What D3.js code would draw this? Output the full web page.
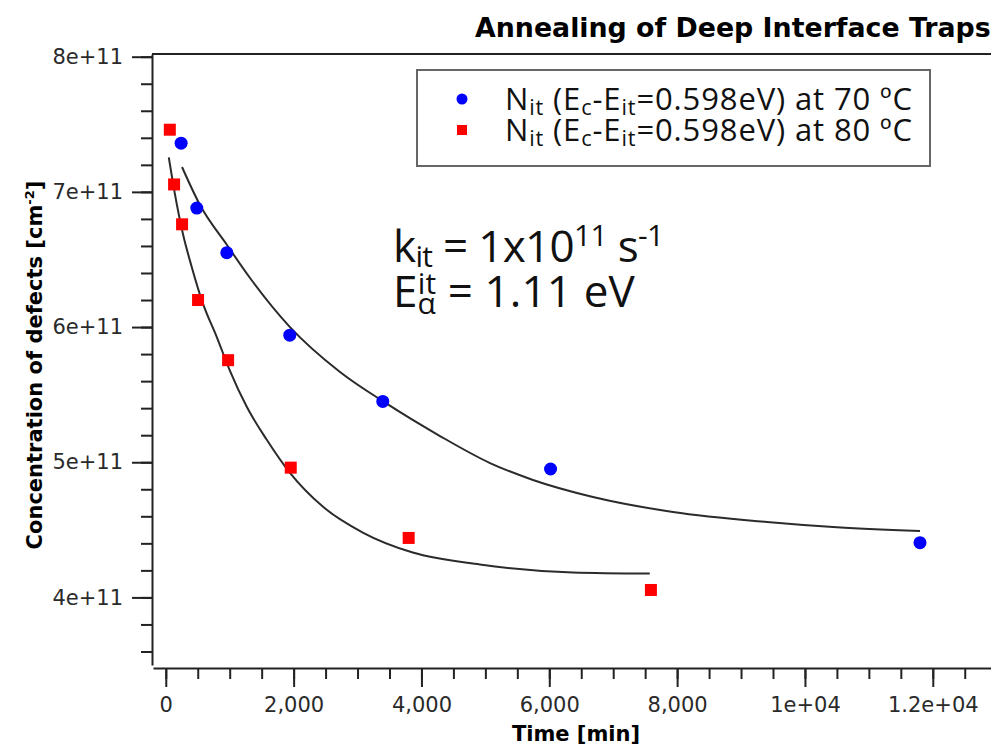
<!DOCTYPE html>
<html>
<head>
<meta charset="utf-8">
<script src="https://cdn.jsdelivr.net/npm/d3@7"></script>
<style>
  body { margin: 0; background: #fff; }
</style>
</head>
<body>
<div class="plot"></div>
<script>
// measured points, 70 C and 80 C
const time70 = [240, 485, 955, 1940, 3395, 6020, 11800];
const conc70 = [7.36e11, 6.88e11, 6.55e11, 5.94e11, 5.45e11, 4.95e11, 4.405e11];
const time80 = [63, 130, 255, 505, 975, 1955, 3800, 7590];
const conc80 = [7.46e11, 7.055e11, 6.76e11, 6.2e11, 5.755e11, 4.96e11, 4.44e11, 4.055e11];

// fit curves
const fitTime70 = [254, 535, 958, 1318, 1943, 2726, 3414, 4290, 5073, 5745, 6684, 7936, 9406, 10439, 11800];
const fitConc70 = [7.184e11, 6.903e11, 6.607e11, 6.363e11, 6.0e11, 5.668e11, 5.446e11, 5.194e11, 4.994e11, 4.869e11, 4.743e11, 4.632e11, 4.558e11, 4.521e11, 4.491e11];
const fitTime80 = [47, 141, 266, 407, 579, 798, 1001, 1267, 1580, 1940, 2456, 3082, 3864, 4913, 6368, 7572];
const fitConc80 = [7.255e11, 6.989e11, 6.694e11, 6.443e11, 6.177e11, 5.926e11, 5.68e11, 5.41e11, 5.166e11, 4.923e11, 4.672e11, 4.48e11, 4.332e11, 4.244e11, 4.185e11, 4.177e11];

const xTicks = [0, 2000, 4000, 6000, 8000, 10000, 12000];
const xTickLabels = ["0", "2,000", "4,000", "6,000", "8,000", "1e+04", "1.2e+04"];
const yTicks = [4e11, 5e11, 6e11, 7e11, 8e11];
const yTickLabels = ["4e+11", "5e+11", "6e+11", "7e+11", "8e+11"];

const width = 991;
const height = 745;

const svg = d3
  .select(".plot")
  .append("svg")
  .attr("width", width)
  .attr("height", height);

const x = d3.scaleLinear().domain([-200, 13000]).range([153, 996.7]);
const y = d3.scaleLinear().domain([3.5e11, 8.02e11]).range([665, 54]);

const tickFont = "'DejaVu Sans', sans-serif";
const noteFont = "'Open Sans', sans-serif";
const axisColor = "#222";

// x axis, minor then major
const xMinor = d3.range(0, 13000, 500);
svg.append("g")
  .attr("transform", "translate(0,668)")
  .call(d3.axisBottom(x).tickValues(xMinor).tickSize(11).tickSizeOuter(0).tickFormat(""))
  .call(g => g.selectAll("line, path").attr("stroke", axisColor).attr("stroke-width", 2));

svg.append("g")
  .attr("transform", "translate(0,668)")
  .call(d3.axisBottom(x).tickValues(xTicks).tickSize(19).tickSizeOuter(0).tickPadding(10)
    .tickFormat((d, i) => xTickLabels[i]))
  .call(g => g.select(".domain").remove())
  .call(g => g.selectAll("line").attr("stroke", axisColor).attr("stroke-width", 2))
  .call(g => g.selectAll("text").attr("fill", "#2a2a2a").attr("font-size", 21).attr("font-family", tickFont));

// y axis
const yMinor = d3.range(3.6e11, 8.01e11, 0.2e11);
svg.append("g")
  .attr("transform", "translate(152,0)")
  .call(d3.axisLeft(y).tickValues(yMinor).tickSize(11).tickSizeOuter(0).tickFormat(""))
  .call(g => g.selectAll("line, path").attr("stroke", axisColor).attr("stroke-width", 2));

svg.append("g")
  .attr("transform", "translate(152,0)")
  .call(d3.axisLeft(y).tickValues(yTicks).tickSize(20).tickSizeOuter(0).tickPadding(9)
    .tickFormat((d, i) => yTickLabels[i]))
  .call(g => g.select(".domain").remove())
  .call(g => g.selectAll("line").attr("stroke", axisColor).attr("stroke-width", 2))
  .call(g => g.selectAll("text").attr("fill", "#2a2a2a").attr("font-size", 21).attr("font-family", tickFont));

// top frame line
svg.append("line")
  .attr("x1", 152).attr("x2", width)
  .attr("y1", y.range()[1]).attr("y2", y.range()[1])
  .attr("stroke", axisColor)
  .attr("stroke-width", 2);

// title + axis titles
svg.append("text")
  .attr("x", 475)
  .attr("y", 37)
  .attr("font-family", tickFont)
  .attr("font-weight", "bold")
  .attr("font-size", 26.8)
  .text("Annealing of Deep Interface Traps");

svg.append("text")
  .attr("x", 576)
  .attr("y", 741)
  .attr("text-anchor", "middle")
  .attr("font-family", tickFont)
  .attr("font-weight", "bold")
  .attr("font-size", 21)
  .text("Time [min]");

// small helper for sub / superscripts
function richText(sel, runs, size, small, subShift, supShift) {
  let shift = 0;
  let prev = null;
  runs.forEach((r) => {
    const target = r.sub ? size * subShift : r.sup ? -size * supShift : 0;
    const ts = sel.append("tspan")
      .attr("dy", target - shift)
      .attr("font-size", r.sub || r.sup ? size * small : size)
      .text(r.t);
    if (r.back && prev) ts.attr("dx", -prev.getComputedTextLength());
    shift = target;
    prev = ts.node();
  });
}

// stretch a text run to the width it has in the picture
function fitWidth(sel, target) {
  const node = sel.node();
  const len = node.getComputedTextLength();
  const n = node.textContent.length;
  sel.attr("letter-spacing", (target - len) / (n - 1));
}

const yTitle = svg.append("text")
  .attr("transform", "translate(42,365) rotate(-90)")
  .attr("text-anchor", "middle")
  .attr("font-family", tickFont)
  .attr("font-weight", "bold");
richText(yTitle, [{ t: "Concentration of defects [cm" }, { t: "-2", sup: true }, { t: "]" }], 21, 0.62, 0.25, 0.38);

// fit curves
const line = d3.line()
  .x((d) => x(d[0]))
  .y((d) => y(d[1]))
  .curve(d3.curveMonotoneX);

svg.append("path")
  .datum(fitTime70.map((t, i) => [t, fitConc70[i]]))
  .attr("d", line)
  .attr("fill", "none")
  .attr("stroke", "#2b2b2b")
  .attr("stroke-width", 2);

svg.append("path")
  .datum(fitTime80.map((t, i) => [t, fitConc80[i]]))
  .attr("d", line)
  .attr("fill", "none")
  .attr("stroke", "#2b2b2b")
  .attr("stroke-width", 2);

// data points
svg.selectAll("circle.p70")
  .data(time70)
  .enter()
  .append("circle")
  .attr("class", "p70")
  .attr("cx", (d) => x(d))
  .attr("cy", (d, i) => y(conc70[i]))
  .attr("r", 6.5)
  .attr("fill", "#0000ff");

svg.selectAll("rect.p80")
  .data(time80)
  .enter()
  .append("rect")
  .attr("class", "p80")
  .attr("x", (d) => x(d) - 6)
  .attr("y", (d, i) => y(conc80[i]) - 6)
  .attr("width", 12)
  .attr("height", 12)
  .attr("fill", "#ff0000");

// legend
const legend = svg.append("g");
legend.append("rect")
  .attr("x", 417)
  .attr("y", 70)
  .attr("width", 513)
  .attr("height", 96)
  .attr("fill", "#fff")
  .attr("stroke", "#666")
  .attr("stroke-width", 2);

legend.append("circle")
  .attr("cx", 462).attr("cy", 99).attr("r", 5.5)
  .attr("fill", "#0000ff");
legend.append("rect")
  .attr("x", 457).attr("y", 125).attr("width", 10).attr("height", 10)
  .attr("fill", "#ff0000");

["70", "80"].forEach((temp, i) => {
  const t = legend.append("text")
    .attr("x", 505)
    .attr("y", 110 + i * 31)
    .attr("font-family", noteFont)
    .attr("fill", "#111");
  richText(t, [
    { t: "N" }, { t: "it", sub: true }, { t: " (E" }, { t: "c", sub: true },
    { t: "-E" }, { t: "it", sub: true }, { t: "=0.598eV) at " + temp + " ºC" }
  ], 31, 0.7, 0.16, 0.38);
  fitWidth(t, 407);
});

// annotation
const note1 = svg.append("text")
  .attr("x", 393).attr("y", 262)
  .attr("font-family", noteFont)
  .attr("fill", "#111");
richText(note1, [
  { t: "k" }, { t: "it", sub: true }, { t: " = 1x10" }, { t: "11", sup: true },
  { t: " s" }, { t: "-1", sup: true }
], 44, 0.68, 0.12, 0.36);
fitWidth(note1, 271);

const note2 = svg.append("text")
  .attr("x", 393).attr("y", 307)
  .attr("font-family", noteFont)
  .attr("fill", "#111");
richText(note2, [
  { t: "E" }, { t: "α", sub: true }, { t: "it", sup: true, back: true }, { t: " = 1.11 eV" }
], 44, 0.68, 0.16, 0.3);
fitWidth(note2, 260);
</script>
</body>
</html>
